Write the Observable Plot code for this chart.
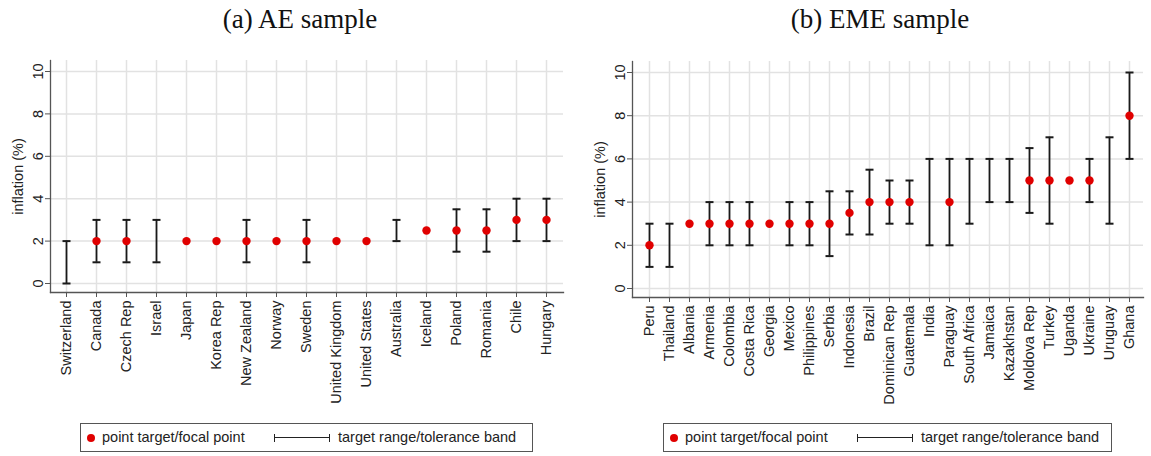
<!DOCTYPE html>
<html><head><meta charset="utf-8">
<script src="https://cdn.jsdelivr.net/npm/d3@7"></script>
<script src="https://cdn.jsdelivr.net/npm/@observablehq/plot@0.6"></script>
<style>
body{margin:0;background:#fff;}
#wrap{position:relative;width:1151px;height:456px;overflow:hidden;font-family:"Liberation Sans",Arial,sans-serif;}
.title{position:absolute;top:0;height:38px;line-height:38px;font-family:"Liberation Serif","Times New Roman",serif;font-size:27px;text-align:center;color:#111;white-space:nowrap;}
.panel{position:absolute;top:40px;}
.legend{position:absolute;top:423px;height:29px;border:1px solid #555;box-sizing:border-box;font-size:14.5px;color:#222;}
.legend .dot{position:absolute;left:6px;top:10px;width:8px;height:8px;border-radius:50%;background:#e00000;}
.legend .t1{position:absolute;left:21px;top:5px;white-space:nowrap;}
.legend .bar{position:absolute;left:193px;top:10px;width:56px;height:8px;border-left:1.5px solid #222;border-right:1.5px solid #222;box-sizing:border-box;}
.legend .bar::after{content:"";position:absolute;left:0;right:0;top:3px;border-top:1.5px solid #222;}
.legend .t2{position:absolute;left:257px;top:5px;white-space:nowrap;}
</style></head>
<body><div id="wrap">
<div class="title" style="left:0;width:600px;">(a) AE sample</div>
<div class="title" style="left:580px;width:600px;">(b) EME sample</div>
<div class="panel" id="ae" style="left:0;"></div>
<div class="panel" id="eme" style="left:575px;"></div>
<div class="legend" style="left:80px;width:453px;"><div class="dot"></div><div class="t1">point target/focal point</div><div class="bar"></div><div class="t2">target range/tolerance band</div></div>
<div class="legend" style="left:663px;width:449px;"><div class="dot"></div><div class="t1">point target/focal point</div><div class="bar"></div><div class="t2">target range/tolerance band</div></div>
</div>
<script>
// (a) AE sample
const aeCountries = ["Switzerland","Canada","Czech Rep","Israel","Japan","Korea Rep","New Zealand","Norway","Sweden","United Kingdom","United States","Australia","Iceland","Poland","Romania","Chile","Hungary"];
const aePoint = [null,2,2,null,2,2,2,2,2,2,2,null,2.5,2.5,2.5,3,3];
const aeLow   = [0,1,1,1,null,null,1,null,1,null,null,2,null,1.5,1.5,2,2];
const aeHigh  = [2,3,3,3,null,null,3,null,3,null,null,3,null,3.5,3.5,4,4];

// (b) EME sample
const emeCountries = ["Peru","Thailand","Albania","Armenia","Colombia","Costa Rica","Georgia","Mexico","Philippines","Serbia","Indonesia","Brazil","Dominican Rep","Guatemala","India","Paraguay","South Africa","Jamaica","Kazakhstan","Moldova Rep","Turkey","Uganda","Ukraine","Uruguay","Ghana"];
const emePoint = [2,null,3,3,3,3,3,3,3,3,3.5,4,4,4,null,4,null,null,null,5,5,5,5,null,8];
const emeLow   = [1,1,null,2,2,2,null,2,2,1.5,2.5,2.5,3,3,2,2,3,4,4,3.5,3,null,4,3,6];
const emeHigh  = [3,3,null,4,4,4,null,4,4,4.5,4.5,5.5,5,5,6,6,6,6,6,6.5,7,null,6,7,10];

const yTicks = [0,2,4,6,8,10];
const yLabel = "inflation (%)";

const cap = {draw(ctx, size){ const w = Math.sqrt(size/Math.PI); ctx.moveTo(-w,0); ctx.lineTo(w,0); }};

function panel(countries, point, low, high, o){
  const pts = countries.map((c,i)=>({c, v: point[i]})).filter(d=>d.v!=null);
  const rng = countries.map((c,i)=>({c, lo: low[i], hi: high[i]})).filter(d=>d.lo!=null);
  return Plot.plot({
    width: o.width, height: o.height,
    marginLeft: o.ml, marginRight: o.mr, marginTop: o.mt, marginBottom: o.mb,
    insetLeft: o.il, insetRight: o.ir, insetTop: o.it, insetBottom: o.ib,
    style: {fontFamily: "'Liberation Sans', Arial, sans-serif", fontSize: "14.5px", color: "#222", background: "transparent", overflow: "visible"},
    x: {type: "point", domain: countries, padding: 0},
    y: {domain: [0,10]},
    marks: [
      Plot.gridX({stroke: "#e2e2e2", strokeOpacity: 1, strokeWidth: 1.5}),
      Plot.gridY(yTicks, {stroke: "#e2e2e2", strokeOpacity: 1, strokeWidth: 1.5}),
      Plot.axisY(yTicks, {tickSize: 5, tickRotate: -90, tickPadding: 3, stroke: "#555", label: yLabel, labelAnchor: "center", labelArrow: "none", labelOffset: o.lo}),
      Plot.axisX({tickSize: 5, tickRotate: -90, tickPadding: 3, stroke: "#555", label: null}),
      Plot.frame({anchor: "left", stroke: "#555", strokeWidth: 1.3}),
      Plot.frame({anchor: "bottom", stroke: "#555", strokeWidth: 1.3}),
      Plot.ruleX(rng, {x: "c", y1: "lo", y2: "hi", stroke: "#1a1a1a", strokeWidth: 1.8}),
      Plot.dot(rng, {x: "c", y: "lo", symbol: cap, r: 4, stroke: "#1a1a1a", strokeWidth: 2, fill: "none"}),
      Plot.dot(rng, {x: "c", y: "hi", symbol: cap, r: 4, stroke: "#1a1a1a", strokeWidth: 2, fill: "none"}),
      Plot.dot(pts, {x: "c", y: "v", r: 4.2, fill: "#e00000", stroke: "none"})
    ]
  });
}

document.getElementById("ae").append(panel(aeCountries, aePoint, aeLow, aeHigh,
  {width: 575, height: 375, ml: 50, mr: 12, mt: 20, mb: 123, il: 10, ir: 11, it: 11, ib: 9, lo: 38}));
document.getElementById("eme").append(panel(emeCountries, emePoint, emeLow, emeHigh,
  {width: 576, height: 375, ml: 57, mr: 8, mt: 21, mb: 118, il: 10, ir: 8, it: 11, ib: 9, lo: 38}));
</script>
</body></html>
